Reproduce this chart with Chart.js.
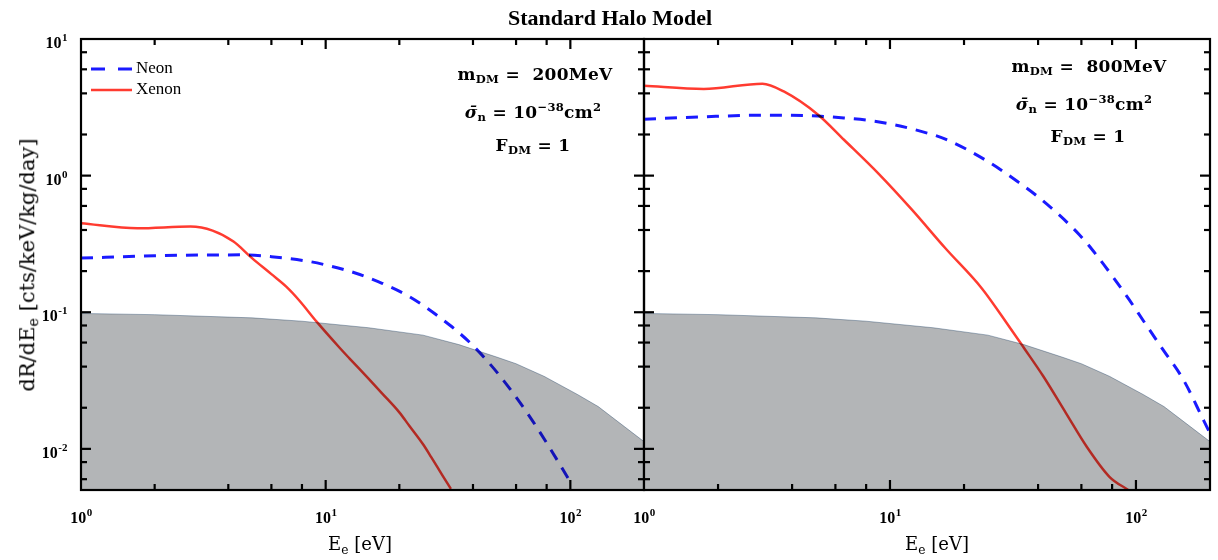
<!DOCTYPE html>
<html>
<head>
<meta charset="utf-8">
<script src="https://cdn.jsdelivr.net/npm/chart.js@4.4.1/dist/chart.umd.min.js"></script>
<style>
  body { margin: 0; background: #fff; width: 1218px; height: 560px; position: relative; overflow: hidden;
         font-family: "Liberation Serif", "Times New Roman", serif; color: #000; }
  .box { position: absolute; top: 0; height: 560px; }
  #leftBox { left: 0; width: 650px; }
  #rightBox { left: 600px; width: 618px; }
  .txt { position: absolute; white-space: nowrap; transform: translate(-50%, -50%); }
  .title { font-weight: bold; font-size: 22px; }
  .axis { font-family: "DejaVu Serif", serif; font-size: 18px; }
  .note { font-family: "DejaVu Serif", serif; font-size: 17px; font-weight: bold; letter-spacing: 0.3px; }
  .note sub, .axis sub { font-size: 0.68em; vertical-align: -0.25em; }
  .note sup { font-size: 0.68em; vertical-align: 0.55em; }
  .leg { position: absolute; font-size: 17px; white-space: nowrap; }
</style>
</head>
<body>
<div id="leftBox" class="box"><canvas id="leftChart"></canvas></div>
<div id="rightBox" class="box"><canvas id="rightChart"></canvas></div>

<div class="txt title" style="left:610px; top:18px;">Standard Halo Model</div>
<div class="txt axis" style="left:28px; top:265px; font-size:21px; transform: translate(-50%,-50%) rotate(-90deg);">dR/dE<sub>e</sub> [cts/keV/kg/day]</div>
<div class="txt axis" style="left:360px; top:545px;">E<sub>e</sub> [eV]</div>
<div class="txt axis" style="left:937px; top:545px;">E<sub>e</sub> [eV]</div>

<div class="txt note" style="left:535px; top:75px;">m<sub>DM</sub> =&nbsp; 200MeV</div>
<div class="txt note" style="left:533px; top:112px;"><i>σ̄</i><sub>n</sub> = 10<sup>−38</sup>cm<sup>2</sup></div>
<div class="txt note" style="left:533px; top:146px;">F<sub>DM</sub> = 1</div>

<div class="txt note" style="left:1089px; top:67px;">m<sub>DM</sub> =&nbsp; 800MeV</div>
<div class="txt note" style="left:1084px; top:104px;"><i>σ̄</i><sub>n</sub> = 10<sup>−38</sup>cm<sup>2</sup></div>
<div class="txt note" style="left:1088px; top:137px;">F<sub>DM</sub> = 1</div>

<svg style="position:absolute; left:0; top:0;" width="200" height="110">
  <line x1="91" y1="69" x2="132" y2="69" stroke="#1a1aff" stroke-width="3" stroke-dasharray="14,13"/>
  <line x1="91" y1="90" x2="132" y2="90" stroke="#ff3b30" stroke-width="2.5"/>
</svg>
<div class="leg" style="left:136px; top:58px;">Neon</div>
<div class="leg" style="left:136px; top:79px;">Xenon</div>

<script>
// background band (same in both panels)
const bgE = [1, 2, 5, 8, 15, 25, 35, 50, 60, 78, 107, 130, 200];
const bgRate = [0.098, 0.096, 0.091, 0.086, 0.077, 0.068, 0.058, 0.047, 0.042, 0.034, 0.025, 0.0204, 0.0113];

// m_DM = 200 MeV
const neonE1 = [1, 2, 3, 4.6, 6, 8.6, 10, 13.3, 17, 22, 32, 40, 51, 66, 82, 99];
const neonR1 = [0.249, 0.259, 0.262, 0.263, 0.255, 0.235, 0.222, 0.193, 0.163, 0.13, 0.081, 0.057, 0.035, 0.0188, 0.0103, 0.0059];
const xenonE1 = [1, 1.7, 2.8, 3.45, 4.2, 5, 6, 6.9, 7.8, 9.2, 11.4, 12.5, 15, 17, 20, 22, 25, 27, 30, 32.5];
const xenonR1 = [0.449, 0.412, 0.424, 0.396, 0.329, 0.249, 0.19, 0.154, 0.122, 0.085, 0.055, 0.046, 0.0325, 0.0255, 0.0185, 0.0147, 0.0108, 0.0087, 0.0064, 0.0051];

// m_DM = 800 MeV
const neonE2 = [1, 1.7, 3, 4.8, 6.5, 8.4, 10.5, 13.5, 16.8, 25, 33, 41.6, 59, 69, 80.5, 94, 107, 129, 156, 188, 200];
const neonR2 = [2.59, 2.69, 2.77, 2.74, 2.64, 2.52, 2.35, 2.1, 1.85, 1.27, 0.905, 0.66, 0.368, 0.263, 0.182, 0.123, 0.087, 0.053, 0.032, 0.0163, 0.013];
const xenonE2 = [1, 1.75, 3.03, 3.7, 5.1, 6.5, 9, 12.3, 16.8, 23.6, 30.3, 35, 42, 52, 63, 78, 93];
const xenonR2 = [4.55, 4.31, 4.71, 4.13, 2.79, 1.83, 1.03, 0.561, 0.294, 0.15, 0.08, 0.055, 0.034, 0.0182, 0.0104, 0.00625, 0.005];

const xMajor = [1, 10, 100];
const yMajor = [0.01, 0.1, 1, 10];
const minorMult = [2, 4, 6, 8];

const toPoints = (xs, ys) => xs.map((x, i) => ({ x: x, y: ys[i] }));

// lines and band blend like ink on paper
const multiplyPlugin = {
    id: "multiply",
    beforeDatasetsDraw(chart) {
        chart.ctx.save();
        chart.ctx.globalCompositeOperation = "multiply";
    },
    afterDatasetsDraw(chart) {
        chart.ctx.restore();
    },
};

// "10" with a raised exponent
function drawPow(ctx, v, x, y, align) {
    const e = Math.round(Math.log10(v));
    const exp = e < 0 ? "-" + (-e) : String(e);
    ctx.font = "bold 16px 'Liberation Serif', serif";
    const wb = ctx.measureText("10").width;
    ctx.font = "bold 11px 'Liberation Serif', serif";
    const we = ctx.measureText(exp).width;
    const x0 = align === "center" ? x - (wb + we) / 2 : x - wb - we;
    ctx.textAlign = "left";
    ctx.textBaseline = "alphabetic";
    ctx.fillText(exp, x0 + wb + 0.5, y - 7);
    ctx.font = "bold 16px 'Liberation Serif', serif";
    ctx.fillText("10", x0, y);
}

// frame with inward ticks on all four sides, plus tick labels
const framePlugin = {
    id: "frame",
    afterDraw(chart) {
        const ctx = chart.ctx;
        const a = chart.chartArea;
        const xs = chart.scales.x, ys = chart.scales.y;
        ctx.save();
        ctx.strokeStyle = "#000";
        ctx.fillStyle = "#000";
        ctx.lineWidth = 2.2;
        ctx.strokeRect(a.left, a.top, a.right - a.left, a.bottom - a.top);
        const tick = (x1, y1, x2, y2) => { ctx.beginPath(); ctx.moveTo(x1, y1); ctx.lineTo(x2, y2); ctx.stroke(); };
        for (let d = -3; d <= 3; d++) {
            const base = Math.pow(10, d);
            [1].concat(minorMult).forEach(m => {
                const v = base * m;
                const len = m === 1 ? 10 : 6;
                if (v > xs.min && v < xs.max) {
                    const px = xs.getPixelForValue(v);
                    tick(px, a.bottom, px, a.bottom - len);
                    tick(px, a.top, px, a.top + len);
                }
                if (v > ys.min && v < ys.max) {
                    const py = ys.getPixelForValue(v);
                    tick(a.left, py, a.left + len, py);
                    tick(a.right, py, a.right - len, py);
                }
            });
        }
        xMajor.forEach(v => drawPow(ctx, v, xs.getPixelForValue(v), a.bottom + 33, "center"));
        if (chart.canvas.id === "leftChart") {
            yMajor.forEach(v => drawPow(ctx, v, a.left - 14, ys.getPixelForValue(v) + 9, "right"));
        }
        ctx.restore();
    },
};

function makeChart(id, neonE, neonR, xenonE, xenonR, yWidth, padRight) {
    return new Chart(document.getElementById(id), {
        type: "line",
        data: {
            datasets: [
                {
                    label: "Background",
                    data: toPoints(bgE, bgRate),
                    borderColor: "#a9b8c8",
                    borderWidth: 1,
                    backgroundColor: "#b3b5b7",
                    fill: "start",
                    pointRadius: 0,
                    tension: 0,
                    order: 3,
                },
                {
                    label: "Neon",
                    data: toPoints(neonE, neonR),
                    borderColor: "#1a1aff",
                    borderWidth: 3,
                    borderDash: [12, 9],
                    fill: false,
                    pointRadius: 0,
                    cubicInterpolationMode: "monotone",
                    order: 2,
                },
                {
                    label: "Xenon",
                    data: toPoints(xenonE, xenonR),
                    borderColor: "#ff3b30",
                    borderWidth: 2.5,
                    fill: false,
                    pointRadius: 0,
                    cubicInterpolationMode: "monotone",
                    order: 1,
                },
            ],
        },
        options: {
            responsive: true,
            maintainAspectRatio: false,
            animation: false,
            events: [],
            layout: { padding: { top: 39, bottom: 40, left: 0, right: padRight } },
            plugins: { legend: { display: false }, tooltip: { enabled: false } },
            scales: {
                x: {
                    type: "logarithmic",
                    min: 1,
                    max: 200,
                    grid: { display: false, drawTicks: false },
                    border: { display: false },
                    afterBuildTicks: s => { s.ticks = xMajor.map(v => ({ value: v })); },
                    afterFit: s => { s.height = 30; },
                    ticks: { display: false },
                },
                y: {
                    type: "logarithmic",
                    min: 0.005,
                    max: 10,
                    grid: { display: false, drawTicks: false },
                    border: { display: false },
                    afterBuildTicks: s => { s.ticks = yMajor.map(v => ({ value: v })); },
                    afterFit: s => { s.width = yWidth; },
                    ticks: { display: false },
                },
            },
        },
        plugins: [multiplyPlugin, framePlugin],
    });
}

makeChart("leftChart", neonE1, neonR1, xenonE1, xenonR1, 81, 6);
makeChart("rightChart", neonE2, neonR2, xenonE2, xenonR2, 44, 8);
</script>
</body>
</html>
